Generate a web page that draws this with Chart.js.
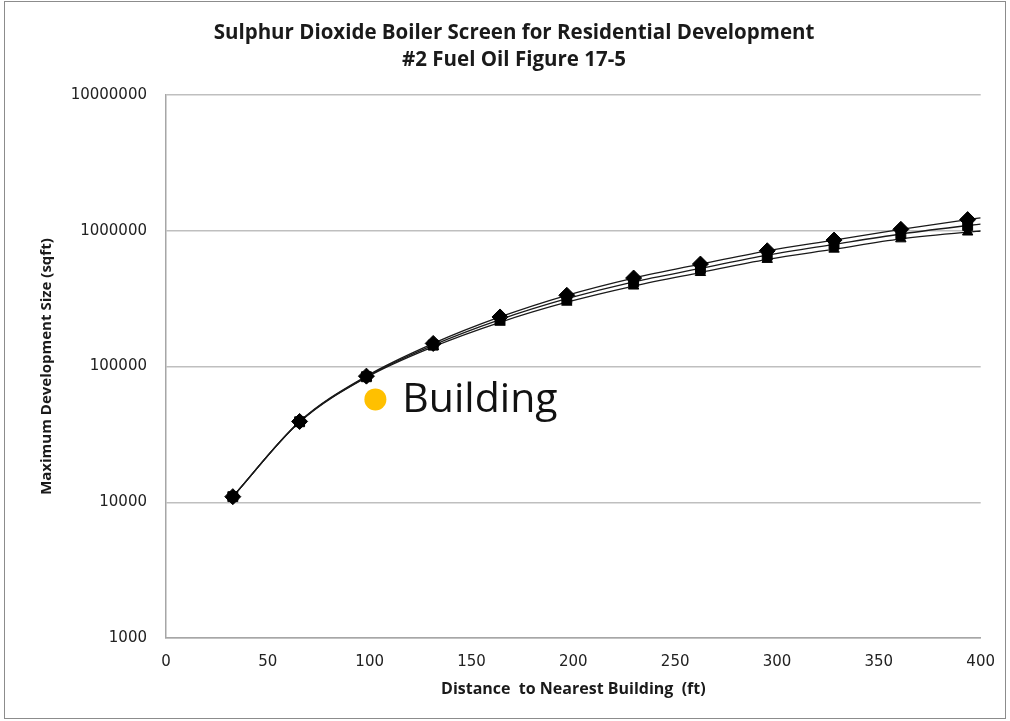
<!DOCTYPE html>
<html>
<head>
<meta charset="utf-8">
<script src="https://cdn.jsdelivr.net/npm/chart.js@4/dist/chart.umd.min.js"></script>
<style>
  html, body { margin: 0; padding: 0; background: #fff; }
  #wrap { width: 1010px; height: 721px; }
</style>
</head>
<body>
<div id="wrap"><canvas id="myChart" width="1010" height="721"></canvas></div>
<script>
// Distances (ft) – last entry is where the curves run out at the axis edge
const distances = [32.8, 65.6, 98.4, 131.2, 164, 196.8, 229.6, 262.4, 295.2, 328, 360.8, 393.6, 400];
const markerCount = 12;

// Maximum development size (sqft) for the three curves
const upperSize  = [11000, 39400, 85000, 148000, 232000, 335000, 449000, 569000, 713000, 855000, 1026000, 1210000, 1245000];
const middleSize = [11000, 39200, 84100, 144000, 222000, 316000, 421000, 528000, 662000, 795000, 948000, 1095000, 1122000];
const lowerSize  = [11000, 39000, 83200, 140000, 212000, 298000, 392000, 493000, 616000, 733000, 873000, 980000, 997000];

// The building being screened
const buildingDistance = [102.8];
const buildingSize = [57300];
const buildingLabel = 'Building';

// Axis ticks
const yTicks = [1000, 10000, 100000, 1000000, 10000000];
const xMin = 0, xMax = 400, xStep = 50;

const titleLines = ['Sulphur Dioxide Boiler Screen for Residential Development', '#2 Fuel Oil Figure 17-5'];

function toPoints(xs, ys) {
  return xs.map((x, i) => ({ x: x, y: ys[i] }));
}

function curve(label, values, style, radius) {
  return {
    label: label,
    data: toPoints(distances, values),
    borderColor: '#1a1a1a',
    backgroundColor: '#000',
    borderWidth: 1.3,
    cubicInterpolationMode: 'monotone',
    pointStyle: style,
    pointRadius: ctx => ctx.dataIndex < markerCount ? radius : 0,
    pointBorderColor: '#000',
    pointBackgroundColor: '#000',
    pointBorderWidth: 1
  };
}

// Frame round the whole chart + the label next to the building point
const extras = {
  id: 'extras',
  beforeDraw(chart) {
    const ctx = chart.ctx;
    ctx.save();
    ctx.fillStyle = '#fff';
    ctx.fillRect(0, 0, chart.width, chart.height);
    ctx.strokeStyle = '#8c8c8c';
    ctx.lineWidth = 1;
    ctx.strokeRect(4.5, 1.5, 1001, 717);
    ctx.restore();
  },
  afterDatasetsDraw(chart) {
    const ctx = chart.ctx;
    const px = chart.scales.x.getPixelForValue(buildingDistance[0]);
    const py = chart.scales.y.getPixelForValue(buildingSize[0]);
    ctx.save();
    ctx.fillStyle = '#111';
    ctx.font = '41px "Open Sans"';
    ctx.textBaseline = 'alphabetic';
    ctx.textAlign = 'left';
    ctx.fillText(buildingLabel, px + 27, py + 13);
    ctx.restore();
  }
};

const chart = new Chart(
  document.getElementById('myChart'),
  {
    type: 'line',
    data: {
      datasets: [
        curve('Middle', middleSize, 'rect', 7),
        curve('Upper', upperSize, 'rectRot', 8),
        curve('Lower', lowerSize, 'triangle', 6),
        {
          label: buildingLabel,
          data: toPoints(buildingDistance, buildingSize),
          showLine: false,
          pointRadius: 11,
          pointBackgroundColor: '#FFC000',
          pointBorderColor: '#FFC000',
          pointBorderWidth: 0
        }
      ]
    },
    plugins: [extras],
    options: {
      responsive: false,
      animation: false,
      layout: { padding: { left: 45, right: 27, top: 5, bottom: 13 } },
      plugins: {
        legend: { display: false },
        tooltip: { enabled: false },
        title: {
          display: true,
          text: titleLines,
          color: '#1a1a1a',
          font: { family: '"Open Sans"', size: 20.5, weight: 'bold', lineHeight: 1.32 },
          padding: { top: 14.5, bottom: 21.5 }
        }
      },
      scales: {
        x: {
          type: 'linear',
          min: xMin,
          max: xMax,
          ticks: {
            stepSize: xStep,
            padding: 15,
            color: '#222',
            font: { family: '"DejaVu Sans"', size: 15 }
          },
          grid: { display: false, drawTicks: false },
          border: { display: true, color: '#a6a6a6', width: 1.5 },
          title: {
            display: true,
            text: 'Distance  to Nearest Building  (ft)',
            color: '#1a1a1a',
            font: { family: '"Open Sans"', size: 16, weight: 'bold' },
            padding: { top: 0, bottom: 9 }
          },
          afterFit(scale) { scale.height = 70; }
        },
        y: {
          type: 'logarithmic',
          min: yTicks[0],
          max: yTicks[yTicks.length - 1],
          afterBuildTicks(scale) {
            scale.ticks = yTicks.map(v => ({ value: v }));
          },
          ticks: {
            padding: 19,
            color: '#222',
            font: { family: '"DejaVu Sans"', size: 15 },
            callback: value => String(value)
          },
          grid: { color: '#bfbfbf', lineWidth: 1.5, drawTicks: false },
          border: { display: true, color: '#a6a6a6', width: 1.5 },
          title: {
            display: true,
            text: 'Maximum Development Size (sqft)',
            color: '#1a1a1a',
            font: { family: '"Open Sans"', size: 15, weight: 'bold' },
            padding: { top: -7, bottom: 0 }
          },
          afterFit(scale) { scale.width = 121; }
        }
      }
    }
  }
);
</script>
</body>
</html>
